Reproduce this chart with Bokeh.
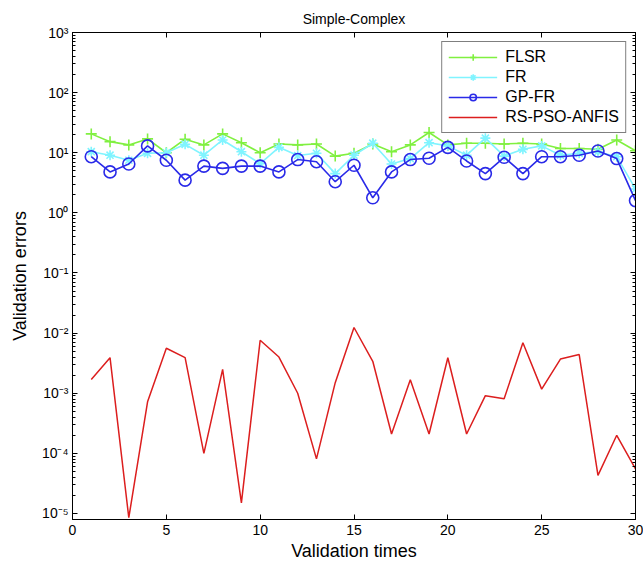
from bokeh.plotting import figure
from bokeh.models import (LogAxis, LinearAxis, Range1d, Legend, LegendItem,
                          CustomJSTickFormatter, FixedTicker)
from bokeh.embed import file_html
from bokeh.resources import INLINE

# ---- data -------------------------------------------------------------
validation_times = list(range(1, 31))

flsr = [20.6, 15.3, 13.5, 17.0, 10.0, 16.8, 13.5, 20.6, 14.7, 10.0,
        14.0, 13.5, 14.0, 8.8, 9.8, 14.0, 10.4, 13.5, 21.7, 13.5,
        14.4, 14.4, 14.0, 14.4, 14.0, 11.8, 11.8, 11.4, 16.3, 10.8]

fr = [10.4, 9.1, 7.5, 9.8, 10.0, 13.8, 9.1, 16.3, 10.4, 6.6,
      12.3, 9.0, 9.8, 4.5, 9.1, 14.4, 6.5, 8.0, 14.7, 13.0,
      9.1, 17.5, 8.8, 11.4, 13.0, 9.1, 9.8, 10.4, 8.6, 2.5]

gp_fr = [8.6, 4.8, 6.5, 13.0, 7.5, 3.5, 6.0, 5.5, 6.0, 6.0,
         4.8, 7.7, 7.1, 3.3, 6.2, 1.78, 4.8, 7.7, 8.1, 12.3,
         7.3, 4.5, 8.4, 4.5, 8.6, 8.6, 9.1, 10.7, 8.0, 1.6]

rs_pso_anfis = [1.7e-3, 3.9e-3, 8.5e-6, 7.2e-4, 5.6e-3, 3.9e-3, 1.0e-4, 2.5e-3, 1.5e-5, 7.6e-3,
                4.0e-3, 1.0e-3, 8.1e-5, 1.5e-3, 1.24e-2, 3.4e-3, 2.1e-4, 1.67e-3, 2.1e-4, 3.9e-3,
                2.1e-4, 9.1e-4, 8.1e-4, 6.9e-3, 1.17e-3, 3.7e-3, 4.4e-3, 4.3e-5, 2.0e-4, 5.5e-5]

x_ticks = [0, 5, 10, 15, 20, 25, 30]
y_exponents = list(range(-5, 4))

# ---- figure -----------------------------------------------------------
FONT = "Liberation Sans"

p = figure(width=643, height=568, y_axis_type="log",
           x_range=Range1d(0, 30), y_range=Range1d(10 ** -5.1, 1e3),
           output_backend="svg", toolbar_location=None,
           title="Simple-Complex",
           min_border_left=72, min_border_right=8, min_border_top=32, min_border_bottom=49)

p.background_fill_color = "white"
p.border_fill_color = "white"
p.outline_line_color = "black"
p.outline_line_width = 1
p.xgrid.visible = False
p.ygrid.visible = False

p.title.align = "center"
p.title.text_font = FONT
p.title.text_font_size = "14px"
p.title.text_font_style = "normal"
p.title.text_color = "black"
p.title.standoff = 11

major_y = [10.0 ** e for e in y_exponents]
minor_y = [k * 10.0 ** e for e in y_exponents[:-1] for k in range(2, 10)]
y_ticker = FixedTicker(ticks=major_y, minor_ticks=minor_y)
x_ticker = FixedTicker(ticks=x_ticks, minor_ticks=[])

sup_fmt = CustomJSTickFormatter(code="""
const e = Math.round(Math.log10(tick));
const sup = {'0':'\u2070','1':'\u00b9','2':'\u00b2','3':'\u00b3','4':'\u2074',
             '5':'\u2075','6':'\u2076','7':'\u2077','8':'\u2078','9':'\u2079','-':'\u207b'};
return '10' + String(e).split('').map(c => sup[c]).join('');
""")
blank_fmt = CustomJSTickFormatter(code="return '';")


def style_axis(ax):
    ax.axis_line_color = "black"
    ax.major_tick_in = 5
    ax.major_tick_out = 0
    ax.minor_tick_in = 3
    ax.minor_tick_out = 0
    ax.major_tick_line_color = "black"
    ax.minor_tick_line_color = "black"
    ax.major_label_text_font = FONT
    ax.major_label_text_color = "black"
    ax.major_label_text_font_size = "14px"


yax = p.yaxis[0]
yax.ticker = y_ticker
yax.formatter = sup_fmt
style_axis(yax)
yax.major_label_standoff = 4
yax.axis_label = "Validation errors"
yax.axis_label_text_font = FONT
yax.axis_label_text_font_size = "18px"
yax.axis_label_text_font_style = "normal"
yax.axis_label_text_color = "black"
yax.axis_label_standoff = 9

xax = p.xaxis[0]
xax.ticker = x_ticker
style_axis(xax)
xax.major_label_standoff = 5
xax.axis_label = "Validation times"
xax.axis_label_text_font = FONT
xax.axis_label_text_font_size = "18px"
xax.axis_label_text_font_style = "normal"
xax.axis_label_text_color = "black"
xax.axis_label_standoff = 3

right_ax = LogAxis(ticker=y_ticker, formatter=blank_fmt)
style_axis(right_ax)
right_ax.major_label_standoff = 0
right_ax.major_label_text_font_size = "1px"
p.add_layout(right_ax, "right")

top_ax = LinearAxis(ticker=x_ticker, formatter=blank_fmt)
style_axis(top_ax)
top_ax.major_label_standoff = 0
top_ax.major_label_text_font_size = "1px"
p.add_layout(top_ax, "above")

# ---- series -----------------------------------------------------------
c_flsr = "#80f040"
c_fr = "#80f4ff"
c_gp = "#2a2ae8"
c_rs = "#dc1e1e"

l1 = p.line(validation_times, flsr, line_color=c_flsr, line_width=1.6)
m1 = p.scatter(validation_times, flsr, marker="cross", size=11, line_color=c_flsr, line_width=1.6,
               fill_color=None)
l2 = p.line(validation_times, fr, line_color=c_fr, line_width=1.6)
m2 = p.scatter(validation_times, fr, marker="asterisk", size=10, line_color=c_fr, line_width=1.6,
               fill_color=None)
l3 = p.line(validation_times, gp_fr, line_color=c_gp, line_width=1.6)
m3 = p.scatter(validation_times, gp_fr, marker="circle", size=12, line_color=c_gp, line_width=1.6,
               fill_color=None)
l4 = p.line(validation_times, rs_pso_anfis, line_color=c_rs, line_width=1.5)

legend = Legend(items=[
    LegendItem(label="FLSR", renderers=[l1, m1]),
    LegendItem(label="FR", renderers=[l2, m2]),
    LegendItem(label="GP-FR", renderers=[l3, m3]),
    LegendItem(label="RS-PSO-ANFIS", renderers=[l4]),
], location="top_right")
legend.label_text_font = FONT
legend.label_text_font_size = "16px"
legend.label_text_color = "black"
legend.glyph_width = 49
legend.glyph_height = 16
legend.spacing = 2
legend.padding = 6
legend.margin = 9
legend.label_standoff = 8
legend.border_line_color = "black"
legend.border_line_width = 1
legend.background_fill_color = "white"
legend.background_fill_alpha = 1.0
p.add_layout(legend)

open("out.html", "w").write(file_html(p, INLINE))
